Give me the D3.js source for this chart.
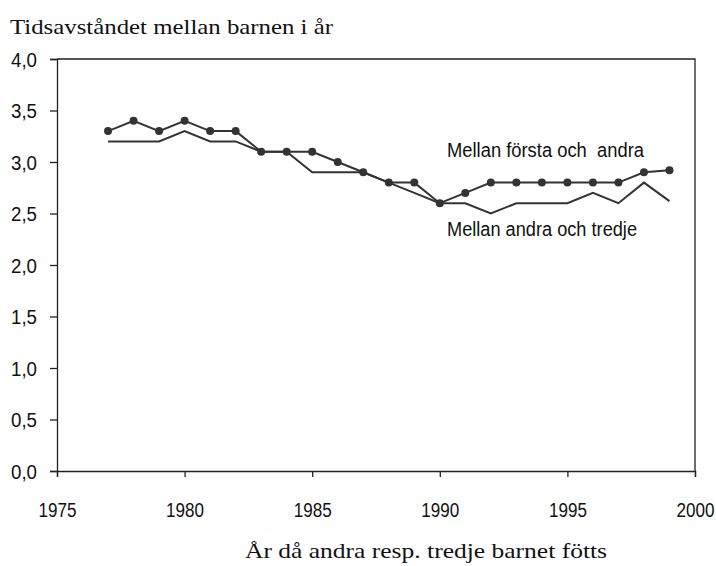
<!DOCTYPE html>
<html>
<head>
<meta charset="utf-8">
<script src="https://cdn.jsdelivr.net/npm/d3@7"></script>
<style>
  body { margin: 0; background: #fff; }
  .tick text { font-family: "Liberation Sans", Arial, sans-serif; font-size: 20px; fill: #111; }
  .lbl { font-family: "Liberation Sans", Arial, sans-serif; font-size: 20px; fill: #111; }
  .ttl { font-family: "Liberation Serif", "Times New Roman", serif; font-size: 21px; fill: #111; }
</style>
</head>
<body>
<div class="chart"></div>
<script>
// years on x axis
const years = [1977, 1978, 1979, 1980, 1981, 1982, 1983, 1984, 1985, 1986, 1987, 1988,
  1989, 1990, 1991, 1992, 1993, 1994, 1995, 1996, 1997, 1998, 1999];

// mellan första och andra barnet
const forstaAndra = [3.3, 3.4, 3.3, 3.4, 3.3, 3.3, 3.1, 3.1, 3.1, 3.0, 2.9, 2.8,
  2.8, 2.6, 2.7, 2.8, 2.8, 2.8, 2.8, 2.8, 2.8, 2.9, 2.92];

// mellan andra och tredje barnet
const andraTredje = [3.2, 3.2, 3.2, 3.3, 3.2, 3.2, 3.1, 3.1, 2.9, 2.9, 2.9, 2.8,
  2.7, 2.6, 2.6, 2.5, 2.6, 2.6, 2.6, 2.7, 2.6, 2.8, 2.62];

const xTicks = [1975, 1980, 1985, 1990, 1995, 2000];
const yTicks = [0, 0.5, 1, 1.5, 2, 2.5, 3, 3.5, 4];

const width = 716, height = 566;
const margin = { top: 59, right: 21, bottom: 95, left: 57 };

const svg = d3.select('.chart')
  .append('svg')
  .attr('width', width)
  .attr('height', height);

const x = d3.scaleLinear()
  .domain([1975, 2000])
  .range([margin.left, width - margin.right]);

const y = d3.scaleLinear()
  .domain([0, 4])
  .range([height - margin.bottom, margin.top]);

const fmt = d3.format('.1f');

// the reference uses a condensed font, so squeeze text to its measured widths
const squeeze = (sel, w) => sel.attr('textLength', w).attr('lengthAdjust', 'spacingAndGlyphs');

// frame (top + right)
svg.append('path')
  .attr('d', `M${x(1975)},${y(4)}H${x(2000)}V${y(0)}`)
  .attr('fill', 'none')
  .attr('stroke', '#222')
  .attr('stroke-width', 1.3);

svg.append('g')
  .attr('transform', `translate(0,${y(0)})`)
  .call(d3.axisBottom(x).tickValues(xTicks).tickFormat(d3.format('d')).tickSize(6).tickPadding(26))
  .call(g => g.selectAll('path, line').attr('stroke', '#222').attr('stroke-width', 1.3))
  .call(g => squeeze(g.selectAll('.tick text'), 38));

svg.append('g')
  .attr('transform', `translate(${x(1975)},0)`)
  .call(d3.axisLeft(y).tickValues(yTicks).tickFormat(d => fmt(d).replace('.', ',')).tickSize(7).tickPadding(13))
  .call(g => g.selectAll('path, line').attr('stroke', '#222').attr('stroke-width', 1.3))
  .call(g => squeeze(g.selectAll('.tick text').attr('dy', '0.35em'), 26));

const line = d3.line()
  .x((d, i) => x(years[i]))
  .y(d => y(d));

svg.append('path')
  .datum(andraTredje)
  .attr('d', line)
  .attr('fill', 'none')
  .attr('stroke', '#333')
  .attr('stroke-width', 2);

svg.append('path')
  .datum(forstaAndra)
  .attr('d', line)
  .attr('fill', 'none')
  .attr('stroke', '#333')
  .attr('stroke-width', 2);

svg.selectAll('.dot')
  .data(forstaAndra)
  .enter().append('circle')
  .attr('class', 'dot')
  .attr('cx', (d, i) => x(years[i]))
  .attr('cy', d => y(d))
  .attr('r', 4)
  .attr('fill', '#333');

// series labels
svg.append('text').attr('class', 'lbl')
  .attr('x', 447).attr('y', 157)
  .attr('xml:space', 'preserve')
  .text('Mellan första och  andra')
  .call(squeeze, 197);

svg.append('text').attr('class', 'lbl')
  .attr('x', 447).attr('y', 236)
  .text('Mellan andra och tredje')
  .call(squeeze, 190);

// titles
svg.append('text').attr('class', 'ttl')
  .attr('x', 10).attr('y', 34)
  .text('Tidsavståndet mellan barnen i år')
  .call(squeeze, 323);

svg.append('text').attr('class', 'ttl')
  .attr('x', 245).attr('y', 558)
  .text('År då andra resp. tredje barnet fötts')
  .call(squeeze, 362);
</script>
</body>
</html>
